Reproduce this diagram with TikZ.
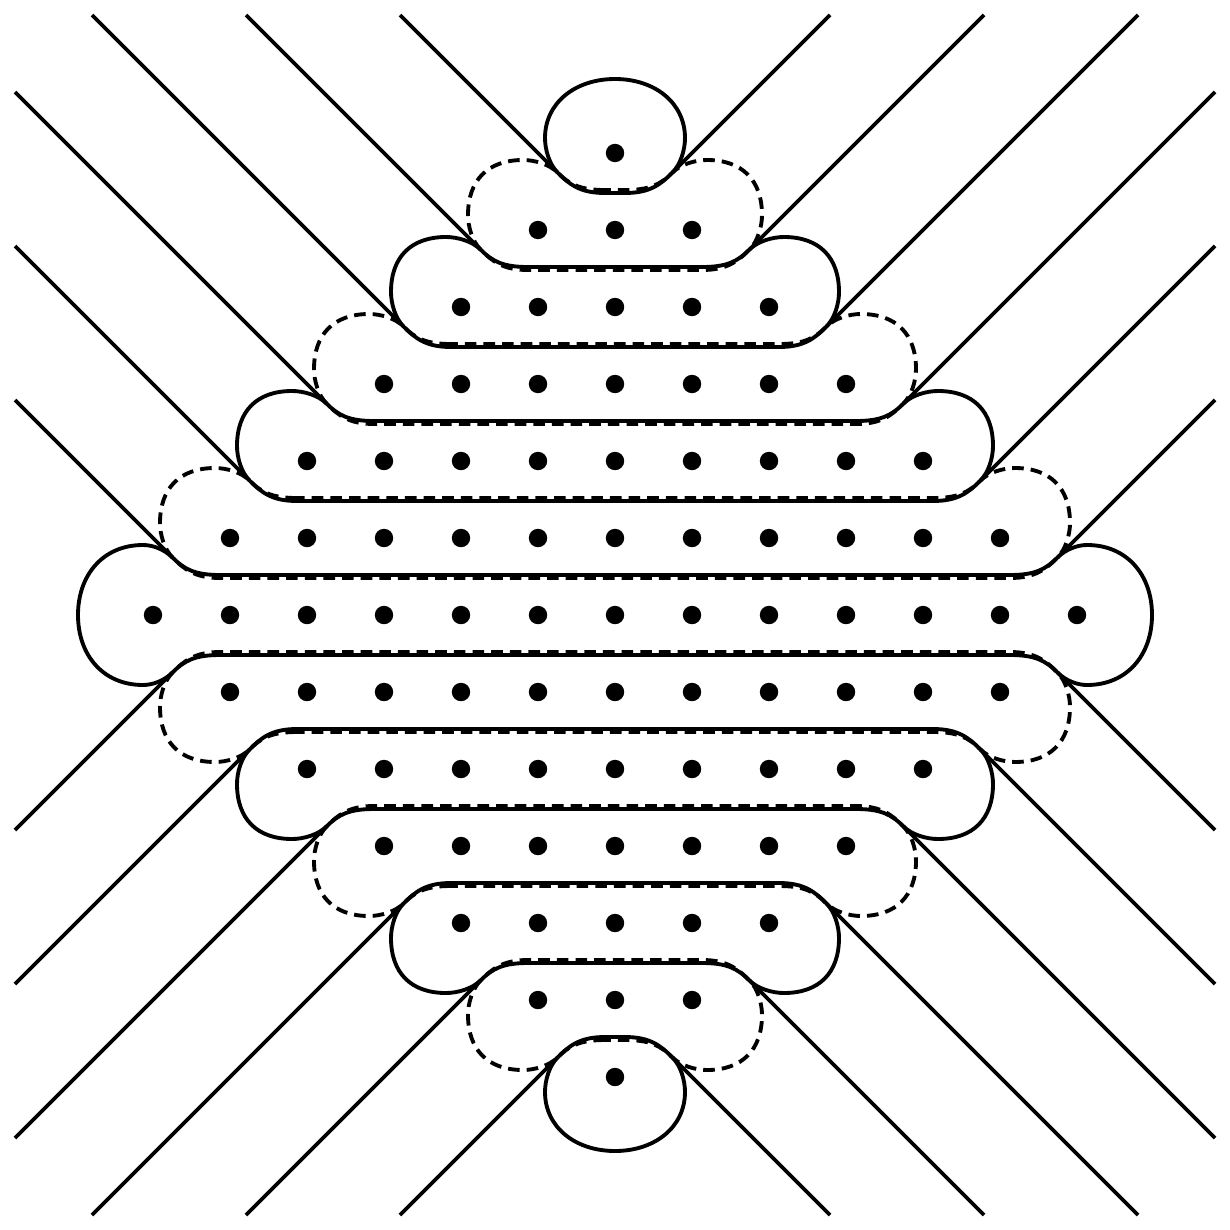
\documentclass[tikz,border=0pt]{standalone}
\newcommand\setrow[1]{%
  \pgfmathsetmacro\m{6-abs(#1)}%
  \pgfmathsetmacro\s{(#1<0) ? 1 : -1}%
  \pgfmathsetmacro\yo{615+77*(#1)}%
  \pgfmathsetmacro\xL{615-77*\m}%
  \pgfmathsetmacro\xR{615+77*\m}}
\newcommand\rowcurve[1]{%
\draw[#1] ({\xL+67},{\yo-40*(\s)})
 .. controls ({\xL+42},{\yo-40*(\s)}) and ({\xL+31.5},{\yo-45.5*(\s)}) .. ({\xL+19.5},{\yo-57.5*(\s)})
 .. controls ({\xL+11.5},{\yo-65.5*(\s)}) and ({\xL-3},{\yo-70*(\s)}) .. ({\xL-15},{\yo-70*(\s)})
 .. controls ({\xL-50},{\yo-70*(\s)}) and ({\xL-70},{\yo-50*(\s)}) .. ({\xL-70},{\yo-15*(\s)})
 .. controls ({\xL-70},{\yo-3*(\s)}) and ({\xL-65.5},{\yo+11.5*(\s)}) .. ({\xL-57.5},{\yo+19.5*(\s)})
 .. controls ({\xL-45.5},{\yo+31.5*(\s)}) and ({\xL-35},{\yo+40*(\s)}) .. ({\xL-10},{\yo+40*(\s)})
 -- ({\xR+10},{\yo+40*(\s)})
 .. controls ({\xR+35},{\yo+40*(\s)}) and ({\xR+45.5},{\yo+31.5*(\s)}) .. ({\xR+57.5},{\yo+19.5*(\s)})
 .. controls ({\xR+65.5},{\yo+11.5*(\s)}) and ({\xR+70},{\yo-3*(\s)}) .. ({\xR+70},{\yo-15*(\s)})
 .. controls ({\xR+70},{\yo-50*(\s)}) and ({\xR+50},{\yo-70*(\s)}) .. ({\xR+15},{\yo-70*(\s)})
 .. controls ({\xR+3},{\yo-70*(\s)}) and ({\xR-11.5},{\yo-65.5*(\s)}) .. ({\xR-19.5},{\yo-57.5*(\s)})
 .. controls ({\xR-31.5},{\yo-45.5*(\s)}) and ({\xR-42},{\yo-40*(\s)}) .. ({\xR-67},{\yo-40*(\s)})
 -- cycle;}
\begin{document}
\begin{tikzpicture}[x=0.01cm,y=-0.01cm,
  rowsolid/.style={line width=1.1pt},
  rowdashed/.style={line width=1.1pt,dash pattern=on 3.3pt off 2pt},
  diag/.style={line width=1.05pt},
  dotfill/.style={fill=black}]
\useasboundingbox (0,0) rectangle (1230,1230);
% diagonal lines (upper-left set, mirrored to the other quadrants)
\foreach \mx/\my in {1/1,-1/1,1/-1,-1/-1}{
  \foreach \a/\b/\c/\d in {400/15/557.5/172.5, 246/15/480.5/249.5, 92/15/403.5/326.5,
                          15/92/326.5/403.5, 15/246/249.5/480.5, 15/400/172.5/557.5}{
    \coordinate (s) at ({615+\mx*(\a-615)},{615+\my*(\b-615)});
    \coordinate (jn) at ({615+\mx*(\c-615)},{615+\my*(\d-615)});
    \draw[diag] (s) -- (jn);
  }
}
% solid rows
\draw[rowsolid] (220,575) .. controls (195,575) and (184.5,569.5) .. (172.5,557.5)
 .. controls (164.5,549.5) and (153,545) .. (143,545)
 .. controls (103,545) and (78,575) .. (78,615)
 .. controls (78,655) and (103,685) .. (143,685)
 .. controls (153,685) and (164.5,680.5) .. (172.5,672.5)
 .. controls (184.5,660.5) and (195,655) .. (220,655)
 -- (1010,655)
 .. controls (1035,655) and (1045.5,660.5) .. (1057.5,672.5)
 .. controls (1065.5,680.5) and (1077,685) .. (1087,685)
 .. controls (1127,685) and (1152,655) .. (1152,615)
 .. controls (1152,575) and (1127,545) .. (1087,545)
 .. controls (1077,545) and (1065.5,549.5) .. (1057.5,557.5)
 .. controls (1045.5,569.5) and (1035,575) .. (1010,575)
 -- cycle;
\draw[rowsolid] (625,193) -- (605,193) .. controls (580,193) and (569.5,184.5) .. (557.5,172.5)
 .. controls (549.5,164.5) and (545,150) .. (545,138)
 .. controls (545,103) and (575,79) .. (615,79)
 .. controls (655,79) and (685,103) .. (685,138)
 .. controls (685,150) and (680.5,164.5) .. (672.5,172.5)
 .. controls (660.5,184.5) and (650,193) .. (625,193) -- cycle;
\draw[rowsolid] (625,1037) -- (605,1037) .. controls (580,1037) and (569.5,1045.5) .. (557.5,1057.5)
 .. controls (549.5,1065.5) and (545,1080) .. (545,1092)
 .. controls (545,1127) and (575,1151) .. (615,1151)
 .. controls (655,1151) and (685,1127) .. (685,1092)
 .. controls (685,1080) and (680.5,1065.5) .. (672.5,1057.5)
 .. controls (660.5,1045.5) and (650,1037) .. (625,1037) -- cycle;
\foreach \j in {-4,-2,2,4}{\setrow{\j}\rowcurve{rowsolid}}
% dashed rows
\foreach \j in {-5,-3,-1,1,3,5}{\setrow{\j}\rowcurve{rowdashed}}
% dots
\foreach \j in {-6,...,6}{
  \foreach \i in {-6,...,6}{
    \pgfmathtruncatemacro\t{abs(\i)+abs(\j)}
    \ifnum\t<7 \fill[dotfill] ({615+77*\i},{615+77*\j}) circle[radius=9.2]; \fi
  }
}
\end{tikzpicture}
\end{document}
